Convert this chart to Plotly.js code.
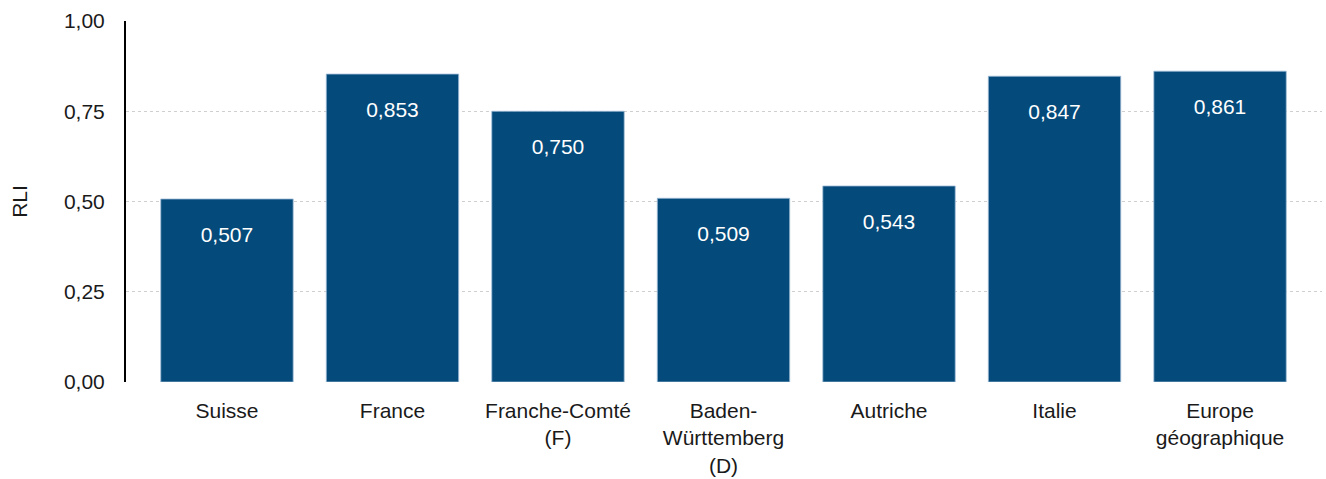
<!DOCTYPE html>
<html>
<head>
<meta charset="utf-8">
<script src="https://cdn.plot.ly/plotly-3.0.1.min.js"></script>
<style>html,body{margin:0;padding:0;background:#fff;}#chart{width:1326px;height:479px;}</style>
</head>
<body>
<div id="chart"></div>
<script>
const categories = ["Suisse", "France", "Franche-Comté<br>(F)", "Baden-<br>Württemberg<br>(D)", "Autriche", "Italie", "Europe<br>géographique"];
const values = [0.507, 0.853, 0.750, 0.509, 0.543, 0.847, 0.861];
const yTickVals = [0, 0.25, 0.5, 0.75, 1.0];
const yTickText = ["0,00", "0,25", "0,50", "0,75", "1,00"];
const labels = values.map(v => v.toFixed(3).replace(".", ","));
const labelOffset = 0.104;

const font = "Liberation Sans, Arial, sans-serif";
const barColor = "#044a7a";

const traces = [
  {
    type: "bar",
    x: categories,
    y: values,
    width: 0.8,
    marker: { color: barColor, line: { color: "#9fbcd8", width: 0.8 } },
    hoverinfo: "skip"
  },
  {
    type: "scatter",
    mode: "text",
    x: categories,
    y: values.map(v => v - labelOffset),
    text: labels,
    textposition: "middle center",
    textfont: { family: font, size: 21, color: "#ffffff" },
    hoverinfo: "skip"
  }
];

const layout = {
  width: 1326,
  height: 479,
  margin: { l: 126, r: 4, t: 21, b: 97 },
  paper_bgcolor: "#ffffff",
  plot_bgcolor: "#ffffff",
  showlegend: false,
  font: { family: font, size: 21, color: "#1a1a1a" },
  xaxis: {
    type: "category",
    range: [-0.61, 6.616],
    showgrid: false,
    zeroline: false,
    showline: false,
    ticks: "",
    tickfont: { family: font, size: 21, color: "#1a1a1a" },
    ticklabelstandoff: 14,
    fixedrange: true
  },
  yaxis: {
    range: [0, 1],
    tickvals: yTickVals,
    ticktext: yTickText,
    showgrid: true,
    gridcolor: "#cfcfcf",
    griddash: "dot",
    gridwidth: 1,
    zeroline: false,
    showline: true,
    linecolor: "#000000",
    linewidth: 2,
    ticks: "",
    ticklabelstandoff: 15,
    tickfont: { family: font, size: 21, color: "#1a1a1a" },
    title: { text: "RLI", font: { family: font, size: 21, color: "#1a1a1a" }, standoff: 31 },
    fixedrange: true
  }
};

Plotly.newPlot("chart", traces, layout, { displayModeBar: false, staticPlot: true });
</script>
</body>
</html>
